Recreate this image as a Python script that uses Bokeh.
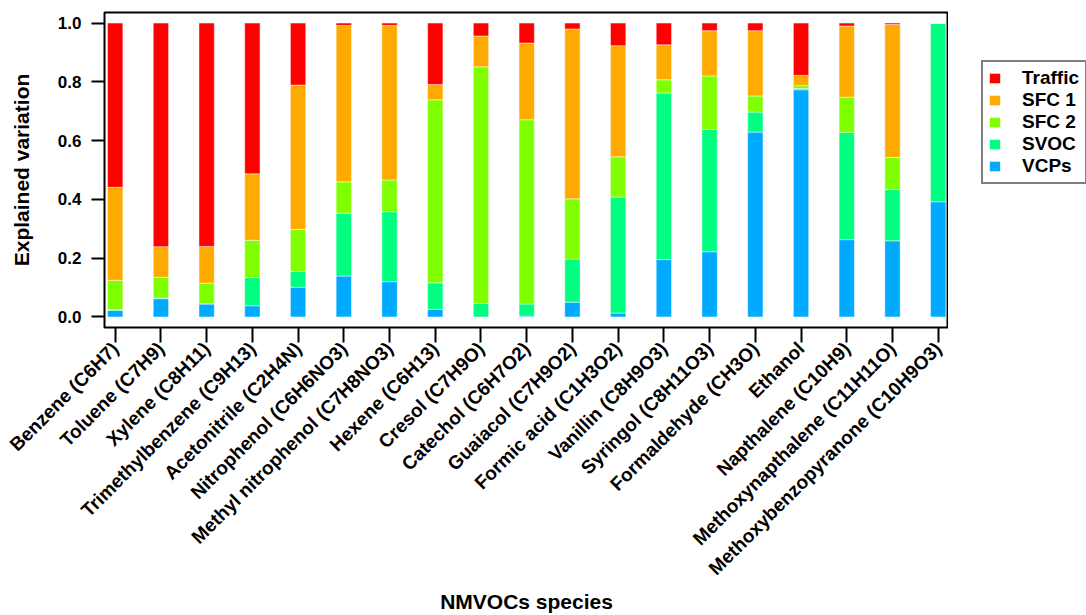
import math
from bokeh.plotting import figure
from bokeh.layouts import row
from bokeh.models import Range1d, FixedTicker, Legend, LegendItem, ColumnDataSource
from bokeh.embed import file_html
from bokeh.resources import INLINE

species = ["Benzene (C6H7)", "Toluene (C7H9)", "Xylene (C8H11)", "Trimethylbenzene (C9H13)",
           "Acetonitrile (C2H4N)", "Nitrophenol (C6H6NO3)", "Methyl nitrophenol (C7H8NO3)",
           "Hexene (C6H13)", "Cresol (C7H9O)", "Catechol (C6H7O2)", "Guaiacol (C7H9O2)",
           "Formic acid (C1H3O2)", "Vanillin (C8H9O3)", "Syringol (C8H11O3)",
           "Formaldehyde (CH3O)", "Ethanol", "Napthalene (C10H9)",
           "Methoxynapthalene (C11H11O)", "Methoxybenzopyranone (C10H9O3)"]

vcps    = [0.022, 0.062, 0.044, 0.038, 0.101, 0.139, 0.120, 0.026, 0.000, 0.003,
           0.050, 0.013, 0.195, 0.222, 0.629, 0.773, 0.263, 0.259, 0.392]
svoc    = [0.003, 0.002, 0.001, 0.096, 0.054, 0.214, 0.238, 0.090, 0.046, 0.041,
           0.147, 0.395, 0.567, 0.416, 0.068, 0.004, 0.365, 0.175, 0.608]
sfc2    = [0.100, 0.071, 0.070, 0.127, 0.143, 0.107, 0.108, 0.623, 0.805, 0.627,
           0.205, 0.137, 0.045, 0.182, 0.055, 0.010, 0.120, 0.109, 0.000]
sfc1    = [0.316, 0.104, 0.125, 0.226, 0.491, 0.532, 0.526, 0.052, 0.105, 0.261,
           0.578, 0.378, 0.119, 0.154, 0.222, 0.035, 0.242, 0.452, 0.000]
traffic = [0.559, 0.761, 0.760, 0.513, 0.211, 0.008, 0.008, 0.209, 0.044, 0.068,
           0.020, 0.077, 0.074, 0.026, 0.026, 0.178, 0.010, 0.005, 0.000]

series_names = ["VCPs", "SVOC", "SFC 2", "SFC 1", "Traffic"]
series_colors = ["#00AAFF", "#00FF80", "#80FF00", "#FFAA00", "#FF0000"]
y_ticks = [0.0, 0.2, 0.4, 0.6, 0.8, 1.0]

FONT = "Liberation Sans"
H = 615

x_idx = list(range(len(species)))
src = ColumnDataSource(dict(x=x_idx, VCPs=vcps, SVOC=svoc, **{"SFC 2": sfc2, "SFC 1": sfc1}, Traffic=traffic))

p = figure(width=948, height=H,
           x_range=Range1d(-0.234, 18.225), y_range=Range1d(-0.036, 1.036),
           output_backend="svg", toolbar_location=None,
           min_border_left=104, min_border_right=0, min_border_top=12, min_border_bottom=287)

p.vbar_stack(series_names, x="x", width=0.335, source=src,
             fill_color=series_colors, line_color="white", line_alpha=0.45, line_width=1)

p.xgrid.visible = False
p.ygrid.visible = False
p.outline_line_color = "black"
p.outline_line_width = 2
p.background_fill_color = "white"

# x axis
p.xaxis.ticker = FixedTicker(ticks=x_idx)
p.xaxis.major_label_overrides = {i: s for i, s in enumerate(species)}
p.xaxis.major_label_orientation = math.pi / 4
p.xaxis.major_tick_out = 15
p.xaxis.major_tick_in = 0
p.xaxis.major_label_standoff = 3
p.xaxis.axis_label = "NMVOCs species"
p.xaxis.axis_label_standoff = 0

# y axis
p.yaxis.ticker = FixedTicker(ticks=y_ticks)
p.yaxis.major_label_overrides = {t: f"{t:.1f}" for t in y_ticks}
p.yaxis.major_tick_out = 13
p.yaxis.major_tick_in = 0
p.yaxis.major_label_standoff = 10
p.yaxis.axis_label = "Explained variation"
p.yaxis.axis_label_standoff = 22

for ax in (p.xaxis, p.yaxis):
    ax.axis_line_color = None
    ax.minor_tick_line_color = None
    ax.major_tick_line_color = "black"
    ax.major_tick_line_width = 2
    ax.major_label_text_font = FONT
    ax.major_label_text_font_style = "bold"
    ax.major_label_text_color = "black"
    ax.axis_label_text_font = FONT
    ax.axis_label_text_font_style = "bold"
    ax.axis_label_text_color = "black"
    ax.axis_label_text_font_size = "21px"
p.xaxis.major_label_text_font_size = "19px"
p.yaxis.major_label_text_font_size = "17px"

# legend panel to the right of the plot (its frame is aligned with the main frame)
q = figure(width=1086 - 948, height=H, x_range=Range1d(0, 1), y_range=Range1d(0, 1),
           output_backend="svg", toolbar_location=None,
           min_border_left=0, min_border_right=0, min_border_top=12, min_border_bottom=287)
q.xaxis.visible = False
q.yaxis.visible = False
q.xgrid.visible = False
q.ygrid.visible = False
q.outline_line_color = None

swatches = [q.vbar(x=[0.5], top=[float("nan")], width=0.1, fill_color=c, line_color=None)
            for c in series_colors]
items = [LegendItem(label=n, renderers=[r]) for n, r in zip(series_names, swatches)][::-1]
legend = Legend(items=items, location=(33, 143), padding=5, margin=0, spacing=0,
                glyph_width=13, glyph_height=12, label_height=22, label_width=58,
                label_standoff=21, label_text_font=FONT, label_text_font_style="bold",
                label_text_font_size="19px", label_text_color="black",
                border_line_color="black", border_line_width=2,
                background_fill_color="white", background_fill_alpha=1)
q.add_layout(legend, "center")

layout = row(p, q, spacing=0)
open("out.html", "w").write(file_html(layout, INLINE))
